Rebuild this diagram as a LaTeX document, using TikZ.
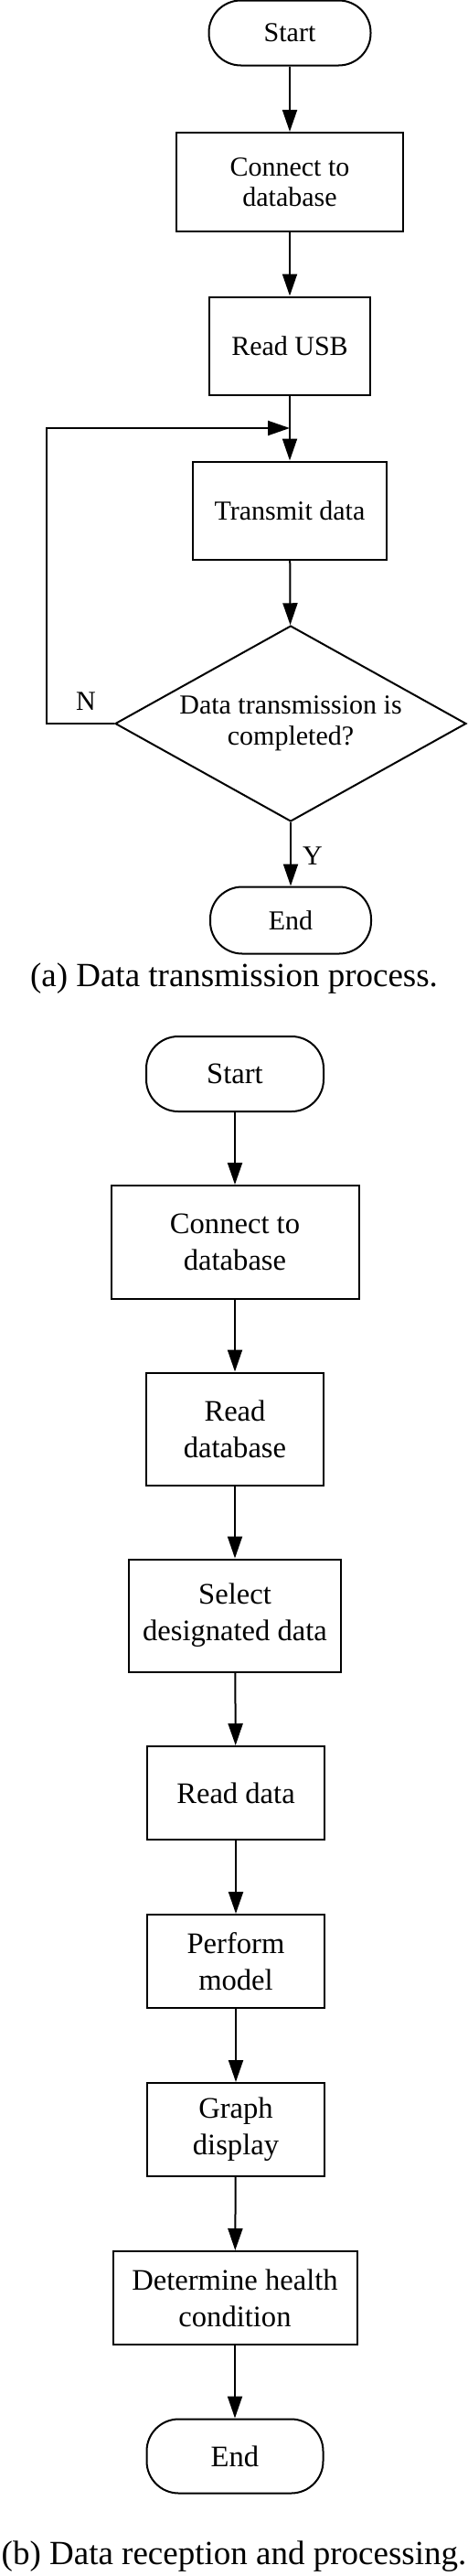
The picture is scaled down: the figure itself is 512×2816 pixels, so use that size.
\documentclass[tikz,border=0pt]{standalone}
\usepackage{fontspec}
\setmainfont{Liberation Serif}
\usetikzlibrary{arrows.meta,shapes.geometric}
\begin{document}
\begin{tikzpicture}[
  x=0.5pt, y=-0.5pt,
  box/.style={
    draw=black, line width=1pt,
    inner sep=0pt, align=center
  },
  term/.style={box, rounded corners=17.5pt},
  check/.style={box, diamond, aspect=1.8},
  flow/.style={line width=1pt, -{Triangle[length=12pt,width=8pt]}},
  fa/.style={font=\fontsize{15pt}{16.75pt}\selectfont},
  fb/.style={font=\fontsize{16.3pt}{20pt}\selectfont},
  caption/.style={font=\fontsize{18.5pt}{22pt}\selectfont}
]
\useasboundingbox (0,0) rectangle (512,2816);
\def\xa{317}
\def\xb{257}
%% (A) TRANSMISSION
\node[term,fa,minimum width=88.5pt,minimum height=35.5pt] (startA) at (\xa,36)   {Start};
\node[box,fa, minimum width=124pt, minimum height=54pt]   (connA)  at (\xa,199)  {Connect to\\database};
\node[box,fa, minimum width=88pt,  minimum height=53.5pt] (usbA)   at (\xa,378)  {Read USB};
\node[box,fa, minimum width=106pt, minimum height=53.5pt] (sendA)  at (\xa,558)  {Transmit data};
\node[check,fa,minimum width=192pt,minimum height=107pt]  (checkA) at (318,791)  {Data transmission is\\completed?};
\node[term,fa,minimum width=88pt,  minimum height=36.5pt] (endA)   at (318,1006) {End};
\coordinate (join) at (\xa,468);
\draw[flow] (startA) -- (connA);
\draw[flow] (connA) -- (usbA);
\draw[flow] (usbA) -- (sendA);
\draw[flow] (sendA) -- (checkA);
\draw[flow] (checkA) -- (endA);
\draw[flow] (checkA.west) -- ++(-74,0) |- (join);
\node[fa] (no)  at (94,767)  {N};
\node[fa] (yes) at (342,936) {Y};
\node[caption] (capA) at (256,1070) {(a) Data transmission process.};
%% (B) RECEPTION
\node[term,fb,minimum width=97pt,   minimum height=41pt]   (startB)  at (\xb,1174) {Start};
\node[box,fb, minimum width=135.5pt,minimum height=62pt]   (connB)   at (\xb,1358) {Connect to\\database};
\node[box,fb, minimum width=97pt,   minimum height=61.5pt] (readB)   at (\xb,1562) {Read\\database};
\node[box,fb, minimum width=116pt,  minimum height=61.5pt] (selB)    at (\xb,1766) {Select\\designated data};
\node[box,fb, minimum width=97pt,   minimum height=51pt]   (dataB)   at (258,1960) {Read data};
\node[box,fb, minimum width=97pt,   minimum height=51pt]   (modelB)  at (258,2144) {Perform\\model};
\node[box,fb, minimum width=97pt,   minimum height=51pt]   (graphB)  at (258,2328) {Graph\\display};
\node[box,fb, minimum width=133.5pt,minimum height=51pt]   (healthB) at (\xb,2512) {Determine health\\condition};
\node[term,fb,minimum width=96.5pt, minimum height=40.5pt] (endB)    at (\xb,2685) {End};
\draw[flow] (startB) -- (connB);
\draw[flow] (connB) -- (readB);
\draw[flow] (readB) -- (selB);
\draw[flow] (selB) -- (dataB);
\draw[flow] (dataB) -- (modelB);
\draw[flow] (modelB) -- (graphB);
\draw[flow] (graphB) -- (healthB);
\draw[flow] (healthB) -- (endB);
\node[caption] (capB) at (256,2795) {(b) Data reception and processing.};
\end{tikzpicture}
\end{document}
